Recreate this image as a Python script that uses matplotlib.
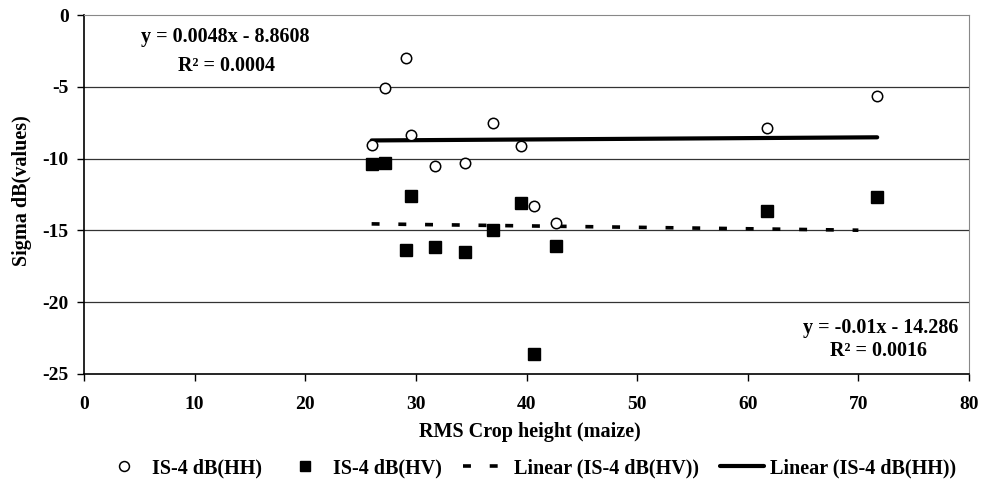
import matplotlib
matplotlib.use("Agg")
import matplotlib.pyplot as plt
import numpy as np

plt.rcParams['font.family'] = ['Liberation Serif', 'DejaVu Serif']
plt.rcParams['font.weight'] = 'bold'
plt.rcParams['axes.unicode_minus'] = False

# Data
hh_x = [26.0, 27.2, 29.1, 29.6, 31.7, 34.4, 37.0, 39.5, 40.7, 42.7, 61.7, 71.7]
hh_y = [-9.05, -5.1, -2.97, -8.36, -10.49, -10.28, -7.54, -9.1, -13.3, -14.46, -7.89, -5.62]
hv_x = [26.0, 27.2, 29.1, 29.6, 31.7, 34.4, 37.0, 39.5, 40.7, 42.7, 61.7, 71.7]
hv_y = [-10.4, -10.28, -16.37, -12.6, -16.18, -16.5, -14.97, -13.07, -23.63, -16.09, -13.65, -12.7]

hh_slope, hh_icpt, hh_r2 = 0.0048, -8.8608, 0.0004
hv_slope, hv_icpt, hv_r2 = -0.01, -14.286, 0.0016

xticks = [0, 10, 20, 30, 40, 50, 60, 70, 80]
yticks = [0, -5, -10, -15, -20, -25]

W, H = 983, 488
FS = 14.5

fig = plt.figure(figsize=(W/100, H/100), dpi=100)
ax = fig.add_axes([84/W, 1-374/H, (969-84)/W, (374-15)/H])

ax.set_xlim(0, 80)
ax.set_ylim(-25, 0)
ax.set_xticks(xticks)
ax.set_yticks(yticks)
ax.tick_params(axis='both', direction='out', length=5, width=1, labelsize=14, colors='black')
ax.tick_params(axis='x', pad=11)
ax.tick_params(axis='y', pad=6)
for lab in ax.get_xticklabels() + ax.get_yticklabels():
    lab.set_fontweight('bold')

for y in [-5, -10, -15, -20]:
    ax.axhline(y, color='#333333', lw=0.9, zorder=0)

ax.spines['left'].set_color('black')
ax.spines['bottom'].set_color('black')
ax.spines['left'].set_linewidth(1.2)
ax.spines['bottom'].set_linewidth(1.2)
ax.spines['top'].set_color('#888888')
ax.spines['right'].set_color('#888888')

# trend lines
tx_hh = np.array([min(hh_x), max(hh_x)])
tx_hv = np.array([min(hv_x), 70.0])

ax.plot(hh_x, hh_y, 'o', ms=7.5, mfc='white', mec='black', mew=1.1, ls='none',
        label='IS-4 dB(HH)', zorder=3)
ax.plot(hv_x, hv_y, 's', ms=8, mfc='black', mec='black', ls='none',
        label='IS-4 dB(HV)', zorder=3)
l1, = ax.plot(tx_hv, hv_slope*tx_hv + hv_icpt, color='black', lw=2.6,
              label='Linear (IS-4 dB(HV))', zorder=2, solid_capstyle='butt')
l1.set_dashes([2.2, 5.2])
ax.plot(tx_hh, hh_slope*tx_hh + hh_icpt, color='black', lw=3,
        label='Linear (IS-4 dB(HH))', zorder=2, solid_capstyle='round')

def ftext(x, y, s, **kw):
    fig.text(x/W, 1-y/H, s, fontsize=FS, fontweight='bold', va='center', **kw)

ftext(225, 37, f'y = {hh_slope}x - {abs(hh_icpt)}', ha='center')
ftext(226, 66, f'R² = {hh_r2:.4f}', ha='center')
ftext(958, 328, f'y = {hv_slope}x - {abs(hv_icpt)}', ha='right')
ftext(879, 351, f'R² = {hv_r2:.4f}', ha='center')

ftext(530, 432, 'RMS Crop height (maize)', ha='center')
ftext(22, 191, 'Sigma dB(values)', ha='center', rotation=90)

leg = fig.legend(loc='center', bbox_to_anchor=(529/W, 1-468/H), ncol=4, frameon=False,
                 prop={'weight': 'bold', 'size': FS}, handlelength=2.2, columnspacing=1.05,
                 handletextpad=0.3, markerscale=0.95, borderaxespad=0, borderpad=0)

fig.savefig('out.png', dpi=100)
